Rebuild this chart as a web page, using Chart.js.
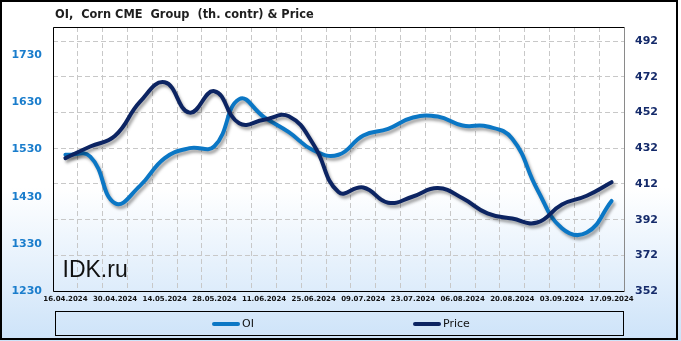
<!DOCTYPE html>
<html>
<head>
<meta charset="utf-8">
<script src="https://cdn.jsdelivr.net/npm/chart.js@4/dist/chart.umd.min.js"></script>
<style>
html,body{margin:0;padding:0;background:#fff;}
#wrap{width:681px;height:341px;position:relative;}
</style>
</head>
<body>
<div id="wrap"><canvas id="c" width="681" height="341"></canvas></div>
<script>
const categories = ['16.04.2024','23.04.2024','30.04.2024','07.05.2024','14.05.2024','21.05.2024','28.05.2024','04.06.2024','11.06.2024','18.06.2024','25.06.2024','02.07.2024','09.07.2024','16.07.2024','23.07.2024','30.07.2024','06.08.2024','13.08.2024','20.08.2024','27.08.2024','03.09.2024','10.09.2024','17.09.2024'];
const oiValues = [1519,1515,1416,1453,1512,1533,1537,1637,1599,1567,1528,1519,1560,1574,1598,1600,1581,1579,1553,1446,1363,1354,1421];
const priceValues = [426.5,433,439,458,469,452,464,446,448,450,434,407.5,410,401.5,405,409.7,404,395.5,392.6,390.4,400.5,405.4,413];
const oiTicks = [1230,1330,1430,1530,1630,1730];
const priceTicks = [352,372,392,412,432,452,472,492];
const titleText = 'OI,  Corn CME  Group  (th. contr) & Price';
const watermarkText = 'IDK.ru';
const seriesNames = ['OI','Price'];

const OI_COLOR = '#0b77c5';
const PRICE_COLOR = '#0c2462';

const decor = {
  id: 'decor',
  beforeDraw(chart) {
    const ctx = chart.ctx;
    ctx.save();
    const g = ctx.createLinearGradient(0, 0, 0, 341);
    g.addColorStop(0, '#ffffff');
    g.addColorStop(0.55, '#ffffff');
    g.addColorStop(1, '#cde3f9');
    ctx.fillStyle = g;
    ctx.fillRect(0, 0, 681, 341);
    ctx.restore();
  },
  beforeDatasetsDraw(chart) {
    const ctx = chart.ctx;
    ctx.save();
    ctx.font = '23px "Liberation Sans"';
    ctx.fillStyle = '#111';
    ctx.textBaseline = 'alphabetic';
    ctx.fillText(watermarkText, 62.5, 277);
    ctx.restore();
  },
  beforeDatasetDraw(chart) {
    const ctx = chart.ctx;
    ctx.save();
    ctx.shadowColor = 'rgba(0,0,0,0.35)';
    ctx.shadowBlur = 3;
    ctx.shadowOffsetX = 2;
    ctx.shadowOffsetY = 3;
  },
  afterDatasetDraw(chart) {
    chart.ctx.restore();
  },
  afterDraw(chart) {
    const ctx = chart.ctx;
    const a = chart.chartArea;
    ctx.save();
    ctx.lineWidth = 1;
    ctx.strokeStyle = '#000';
    ctx.beginPath();
    ctx.moveTo(Math.round(a.right) + 0.5, Math.round(a.top) + 0.5);
    ctx.lineTo(Math.round(a.left) + 0.5, Math.round(a.top) + 0.5);
    ctx.lineTo(Math.round(a.left) + 0.5, Math.round(a.bottom) + 0.5);
    ctx.lineTo(Math.round(a.right) + 0.5, Math.round(a.bottom) + 0.5);
    ctx.stroke();
    ctx.strokeStyle = '#8a8a8a';
    ctx.beginPath();
    ctx.moveTo(Math.round(a.right) + 0.5, Math.round(a.top) + 0.5);
    ctx.lineTo(Math.round(a.right) + 0.5, Math.round(a.bottom) + 0.5);
    ctx.stroke();
    ctx.strokeStyle = '#000';
    ctx.lineWidth = 2;
    ctx.strokeRect(1, 1, 676, 338);
    ctx.font = 'bold 11.4px "DejaVu Sans"';
    ctx.fillStyle = '#1e1e1e';
    ctx.textBaseline = 'middle';
    ctx.fillText(titleText, 55, 15);
    ctx.lineWidth = 1;
    ctx.strokeStyle = '#000';
    ctx.strokeRect(55.5, 311.5, 568, 24);
    const items = [[seriesNames[0], OI_COLOR, 212], [seriesNames[1], PRICE_COLOR, 413]];
    items.forEach(([name, col, x]) => {
      ctx.strokeStyle = col;
      ctx.lineWidth = 4;
      ctx.lineCap = 'round';
      ctx.beginPath();
      ctx.moveTo(x + 2, 324);
      ctx.lineTo(x + 26, 324);
      ctx.stroke();
      ctx.fillStyle = '#111';
      ctx.font = '11px "DejaVu Sans"';
      ctx.textBaseline = 'middle';
      ctx.fillText(name, x + 30, 324);
    });
    ctx.restore();
  }
};

new Chart(document.getElementById('c'), {
  type: 'line',
  data: {
    labels: categories,
    datasets: [
      {
        label: seriesNames[0],
        data: oiValues,
        yAxisID: 'y',
        borderColor: OI_COLOR,
        backgroundColor: OI_COLOR,
        borderWidth: 4,
        pointRadius: 0,
        tension: 0.45,
        borderCapStyle: 'round',
        borderJoinStyle: 'round',
        order: 1
      },
      {
        label: seriesNames[1],
        data: priceValues,
        yAxisID: 'y2',
        borderColor: PRICE_COLOR,
        backgroundColor: PRICE_COLOR,
        borderWidth: 4,
        pointRadius: 0,
        tension: 0.45,
        borderCapStyle: 'round',
        borderJoinStyle: 'round',
        order: 0
      }
    ]
  },
  options: {
    responsive: false,
    animation: false,
    devicePixelRatio: 1,
    layout: { padding: { top: 27, bottom: 30, left: 0, right: 0 } },
    plugins: {
      legend: { display: false },
      title: { display: false },
      tooltip: { enabled: false }
    },
    scales: {
      x: {
        type: 'category',
        offset: true,
        grid: { offset: true, color: '#c8c8c8', lineWidth: 1, drawTicks: false },
        border: { display: false, dash: [5, 3] },
        ticks: {
          autoSkip: false,
          maxRotation: 0,
          minRotation: 0,
          padding: 4,
          color: '#111',
          font: { family: 'DejaVu Sans', size: 7, weight: 'bold' },
          callback: function (v, i) { return i % 2 === 0 ? categories[i] : ''; }
        },
        afterFit: function (s) { s.height = 20; }
      },
      y: {
        position: 'left',
        min: 1230,
        max: 1790,
        grid: { display: false, drawTicks: false },
        border: { display: false },
        afterBuildTicks: function (s) { s.ticks = oiTicks.map(v => ({ value: v })); },
        ticks: {
          padding: 11,
          color: '#1a7dcc',
          font: { family: 'DejaVu Sans', size: 11, weight: 'bold' },
          callback: function (v) { return String(v); }
        },
        afterFit: function (s) { s.width = 53; }
      },
      y2: {
        position: 'right',
        min: 352,
        max: 500,
        grid: { display: true, color: '#c8c8c8', lineWidth: 1, drawTicks: false },
        border: { display: false, dash: [5, 3] },
        afterBuildTicks: function (s) { s.ticks = priceTicks.map(v => ({ value: v })); },
        ticks: {
          padding: 11,
          color: '#142a6a',
          font: { family: 'DejaVu Sans', size: 11, weight: 'bold' },
          callback: function (v) { return String(v); }
        },
        afterFit: function (s) { s.width = 57; }
      }
    }
  },
  plugins: [decor]
});
</script>
</body>
</html>
